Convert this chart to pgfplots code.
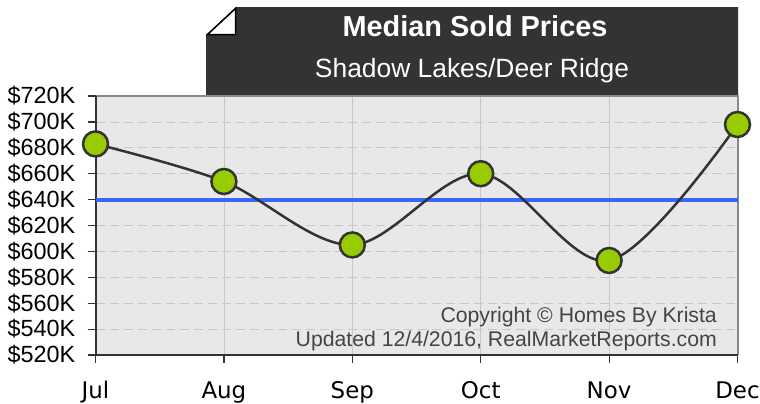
\documentclass[border=0pt]{standalone}
\usepackage{pgfplots}
\pgfplotsset{compat=1.18}
\usepackage{fontspec}
\setmainfont{Liberation Sans}
\newfontfamily\dejavu{DejaVu Sans}
\definecolor{boxdark}{HTML}{333333}
\definecolor{plotbg}{HTML}{E8E8E8}
\definecolor{gridc}{HTML}{C8C8C8}
\definecolor{markgreen}{HTML}{99CC00}
\definecolor{avgblue}{HTML}{3A66FF}
\definecolor{framegray}{HTML}{8A8A8A}
\definecolor{txtgray}{HTML}{444444}
\begin{document}
\begin{tikzpicture}
\path[use as bounding box] (0,0) rectangle (760bp,-404bp);
% title box with folded corner
\fill[boxdark] (206bp,-35bp) -- (236bp,-7bp) -- (738bp,-7bp) -- (738bp,-96bp) -- (206bp,-96bp) -- cycle;
\filldraw[fill=white, draw=black, line width=1.5bp] (207.5bp,-34.5bp) -- (235.5bp,-8.5bp) -- (235.5bp,-34.5bp) -- cycle;
\node[anchor=base, text=white, font=\bfseries\fontsize{29}{29}\selectfont, inner sep=0pt] at (475bp,-36.7bp) {Median Sold Prices};
\node[anchor=base, text=white, font=\fontsize{26.5}{26.5}\selectfont, inner sep=0pt] at (472bp,-77bp) {Shadow Lakes/Deer Ridge};
\begin{axis}[
  at={(95.5bp,-355bp)}, anchor=south west,
  scale only axis, width=642bp, height=259bp,
  xmin=0, xmax=5, ymin=520, ymax=720,
  axis background/.style={fill=plotbg},
  axis line style={draw=none},
  clip=false,
  xtick={0,1,2,3,4,5},
  xticklabels={Jul,Aug,Sep,Oct,Nov,Dec},
  ytick={520,540,560,580,600,620,640,660,680,700,720},
  yticklabels={\$520K,\$540K,\$560K,\$580K,\$600K,\$620K,\$640K,\$660K,\$680K,\$700K,\$720K},
  tick pos=left,
  tick align=outside,
  major tick length=7.5bp,
  tick style={draw=boxdark, line width=1.2bp},
  xmajorgrids, ymajorgrids,
  x grid style={draw=gridc, line width=0.8bp, solid},
  y grid style={draw=gridc, line width=0.8bp, dash pattern=on 9bp off 5bp},
  yticklabel style={font=\fontsize{23.5}{23.5}\selectfont, inner sep=0pt, xshift=-12.5bp},
  xticklabel style={font=\dejavu\fontsize{23}{23}\selectfont, anchor=base, inner sep=0pt, yshift=-36bp},
]
\draw[framegray, line width=2bp] (rel axis cs:0,1) -- (rel axis cs:1,1) -- (rel axis cs:1,0);
\draw[boxdark, line width=2bp] (rel axis cs:0,1) -- (rel axis cs:0,0) -- (rel axis cs:1,0);
\addplot[avgblue, line width=4bp, no marks] coordinates {(0,640) (5,640)};
\addplot[boxdark, line width=2.5bp, smooth, tension=0.55, mark=*, mark size=12.5bp,
  mark options={fill=markgreen, draw=boxdark, line width=2.5bp}]
  coordinates {(0,683) (1,654) (2,605) (3,660) (4,593) (5,698)};
\end{axis}
\node[anchor=base east, text=txtgray, font=\fontsize{21.3}{21.3}\selectfont, inner sep=0pt] at (717bp,-322.7bp) {Copyright \textcopyright{} Homes By Krista};
\node[anchor=base east, text=txtgray, font=\fontsize{21.3}{21.3}\selectfont, inner sep=0pt] at (717bp,-346bp) {Updated 12/4/2016, RealMarketReports.com};
\end{tikzpicture}
\end{document}
